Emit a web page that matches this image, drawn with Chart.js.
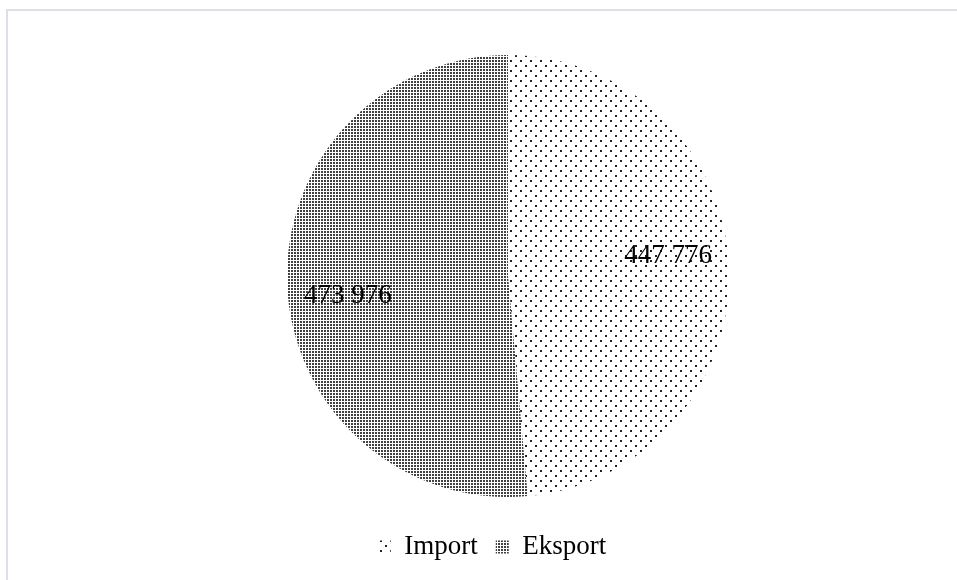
<!DOCTYPE html>
<html>
<head>
<meta charset="utf-8">
<script src="https://cdn.jsdelivr.net/npm/chart.js@4/dist/chart.umd.min.js"></script>
<style>
html,body{margin:0;padding:0;background:#fff;}
#wrap{width:957px;height:580px;position:relative;}
</style>
</head>
<body>
<div id="wrap"><canvas id="c" width="957" height="580"></canvas></div>
<script>
// ---- data ----
const categories = ["Import", "Eksport"];
const values = [447776, 473976];

// ---- patterns ----
function sparseDots() {
  const t = document.createElement('canvas');
  t.width = 10; t.height = 10;
  const g = t.getContext('2d');
  g.fillStyle = '#fff'; g.fillRect(0, 0, 10, 10);
  g.fillStyle = '#222';
  g.fillRect(0, 0, 2, 2);
  g.fillRect(5, 5, 2, 2);
  return g.createPattern(t, 'repeat');
}
function denseDots() {
  const t = document.createElement('canvas');
  t.width = 3; t.height = 3;
  const g = t.getContext('2d');
  g.fillStyle = '#fff'; g.fillRect(0, 0, 3, 3);
  g.fillStyle = '#404040';
  g.fillRect(0, 0, 2, 2);
  return g.createPattern(t, 'repeat');
}
const fills = [sparseDots(), denseDots()];

function fmt(v) {
  return String(v).replace(/\B(?=(\d{3})+(?!\d))/g, ' ');
}

const frame = {
  id: 'frame',
  beforeDraw(chart) {
    const ctx = chart.ctx;
    ctx.save();
    ctx.fillStyle = '#fff';
    ctx.fillRect(0, 0, chart.width, chart.height);
    ctx.strokeStyle = '#dde0e6';
    ctx.lineWidth = 2;
    ctx.strokeRect(7, 10, chart.width + 20, chart.height + 20);
    ctx.restore();
  }
};

const labelsPlugin = {
  id: 'valueLabels',
  afterDatasetsDraw(chart) {
    const ctx = chart.ctx;
    const meta = chart.getDatasetMeta(0);
    ctx.save();
    ctx.font = '27px "Liberation Serif"';
    ctx.fillStyle = '#000';
    ctx.textAlign = 'center';
    ctx.textBaseline = 'middle';
    meta.data.forEach((arc, i) => {
      const p = arc.getProps(['x', 'y', 'startAngle', 'endAngle', 'outerRadius'], true);
      const a = (p.startAngle + p.endAngle) / 2 - 4.5 * Math.PI / 180;
      const r = p.outerRadius * 0.73;
      ctx.fillText(fmt(chart.data.datasets[0].data[i]), p.x + Math.cos(a) * r, p.y + Math.sin(a) * r);
    });
    ctx.restore();
  }
};

const shiftLegend = {
  id: 'shiftLegend',
  afterLayout(chart) {
    if (chart.legend) {
      chart.legend.left -= 16;
      chart.legend.right -= 16;
    }
  }
};

Chart.defaults.font.family = '"Liberation Serif", "Times New Roman", serif';
Chart.defaults.color = '#000';

new Chart(document.getElementById('c'), {
  type: 'pie',
  data: {
    labels: categories,
    datasets: [{
      data: values,
      backgroundColor: fills,
      borderWidth: 0,
      radius: 221
    }]
  },
  options: {
    responsive: false,
    animation: false,
    layout: { padding: { left: 59, right: 0, top: 36.5, bottom: 9.5 } },
    plugins: {
      legend: {
        position: 'bottom',
        labels: {
          font: { size: 27 },
          boxWidth: 13,
          boxHeight: 13,
          padding: 18,
          color: '#000'
        }
      },
      tooltip: { enabled: false }
    }
  },
  plugins: [frame, labelsPlugin, shiftLegend]
});
</script>
</body>
</html>
